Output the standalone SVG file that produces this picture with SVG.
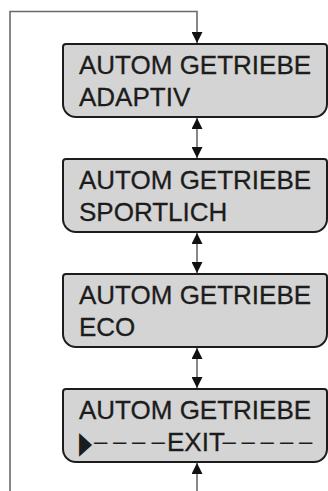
<svg xmlns="http://www.w3.org/2000/svg" width="328" height="491" viewBox="0 0 328 491">
<style>
.box{fill:#d4d4d4;stroke:#1c1c1c;stroke-width:2}
.t{font-family:"Liberation Sans",Arial,sans-serif;font-size:26px;fill:#1c1c1c;stroke:#1c1c1c;stroke-width:0.3}
.d{font-family:"Liberation Sans",Arial,sans-serif;font-size:24px;fill:#1c1c1c}
.tri{font-family:"DejaVu Sans",sans-serif;font-size:20px;fill:#1c1c1c}
.c{fill:none;stroke:#6a6a6a;stroke-width:1.6}
</style>
<defs>
<marker id="ah" markerUnits="userSpaceOnUse" markerWidth="11" markerHeight="11" refX="10" refY="5" orient="auto-start-reverse" viewBox="0 0 10 10">
<path d="M0,0 L10,5 L0,10 Z" fill="#111"/>
</marker>
<path id="shape" d="M66,44 H324 Q327,44 327,47 V104 A13,13 0 0 1 314,117 H76 A13,13 0 0 1 63,104 V47 Q63,44 66,44 Z"/>
</defs>
<g id="connectors">
<path class="c" d="M10,491 V11.5 H197 V43" marker-end="url(#ah)"/>
<line class="c" x1="197" y1="118" x2="197" y2="158" marker-start="url(#ah)" marker-end="url(#ah)"/>
<line class="c" x1="197" y1="233" x2="197" y2="273" marker-start="url(#ah)" marker-end="url(#ah)"/>
<line class="c" x1="197" y1="348" x2="197" y2="388" marker-start="url(#ah)" marker-end="url(#ah)"/>
<line class="c" x1="197" y1="491" x2="197" y2="463" marker-end="url(#ah)"/>
</g>
<g id="adaptiv">
<use href="#shape" class="box"/>
<text class="t" x="79" y="74">AUTOM GETRIEBE</text>
<text class="t" x="79" y="106">ADAPTIV</text>
</g>
<g id="sportlich" transform="translate(0,115)">
<use href="#shape" class="box"/>
<text class="t" x="79" y="74">AUTOM GETRIEBE</text>
<text class="t" x="79" y="106">SPORTLICH</text>
</g>
<g id="eco" transform="translate(0,230)">
<use href="#shape" class="box"/>
<text class="t" x="79" y="74">AUTOM GETRIEBE</text>
<text class="t" x="79" y="106">ECO</text>
</g>
<g id="exit" transform="translate(0,345)">
<use href="#shape" class="box"/>
<text class="t" x="79" y="74">AUTOM GETRIEBE</text>
<text class="tri" transform="translate(79,107.5) scale(0.85,1.55)">▶</text>
<text class="d" x="94 113 132 151.5" y="104">––––</text>
<text class="t" x="167" y="106">EXIT</text>
<text class="d" x="222.5 241.5 260.5 280 299" y="104">–––––</text>
</g>
</svg>
